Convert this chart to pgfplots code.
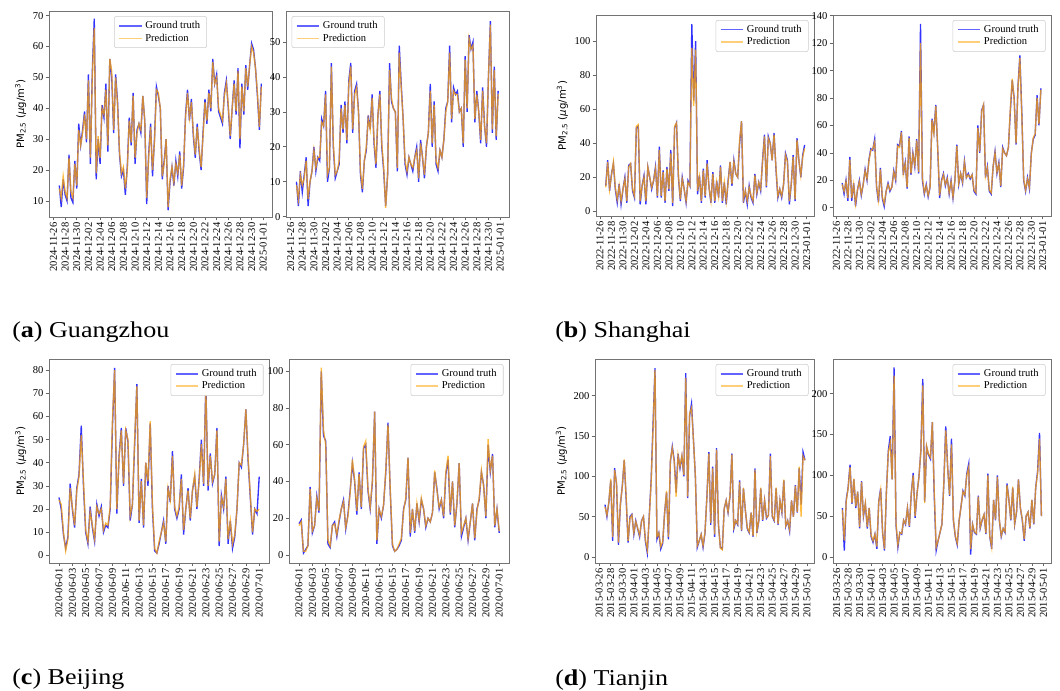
\documentclass[border=0pt]{standalone}
\usepackage{fontspec}
\usepackage{pgfplots}
\usepackage{pgfplotstable}
\pgfplotsset{compat=1.18}
\setmainfont{Liberation Serif}
\newfontfamily\dvs{DejaVu Sans}
\newfontfamily\capfont[FakeStretch=1.15]{Liberation Serif}
\newcommand{\tk}{\fontsize{7.9}{9}\selectfont}
\definecolor{gtc}{RGB}{0,0,255}
\definecolor{prc}{RGB}{255,165,0}
\definecolor{gtl}{RGB}{60,60,255}
\definecolor{prl}{RGB}{255,190,80}

% Guangzhou, left (index i -> day 1+i/3 from 2024-11-26)
\pgfplotstableread[row sep=\\]{gt pr\\
15 14\\ 8 11\\ 17 18\\ 12 13\\ 10 11\\ 25 24\\ 11 13\\ 9.5 11\\ 23 22\\
14 15\\ 35 33\\ 28 28\\ 33 32\\ 39 38\\ 29 30\\ 51 49\\ 22 24\\ 52 50\\
69 66\\ 17 19\\ 30 31\\ 22 24\\ 41 40\\ 37 38\\ 48 46\\ 26 28\\ 56 56\\
50 52\\ 32 33\\ 51 50\\ 42 41\\ 25 26\\ 18 19\\ 20 21\\ 12 14\\ 21 20\\
37 36\\ 28 29\\ 45 44\\ 22 24\\ 33 32\\ 35 35\\ 32 33\\ 44 44\\ 36 36\\
9 11\\ 25 24\\ 35 34\\ 18 20\\ 30 29\\ 47 46\\ 44 45\\ 40 40\\ 17 18\\
23 22\\ 30 30\\ 7 8\\ 16 17\\ 21 21\\ 15 16\\ 23 22\\ 18 19\\ 26 25\\
14 15\\ 21 22\\ 38 37\\ 46 45\\ 36 37\\ 43 42\\ 31 32\\ 24 25\\ 35 34\\
26 27\\ 20 21\\ 32 31\\ 43 42\\ 35 36\\ 46 45\\ 39 40\\ 56 55\\ 48 48\\
51 50\\ 39 40\\ 37 38\\ 35 36\\ 45 44\\ 49 48\\ 40 41\\ 30 31\\ 40 40\\
49 48\\ 38 39\\ 53 52\\ 27 30\\ 48 47\\ 38 39\\ 54 53\\ 46 47\\ 54 54\\
61 60\\ 59 58\\ 53 53\\ 44 45\\ 33 34\\ 48 47\\
}\tabAL
\pgfplotstableread[row sep=\\]{gt pr\\
10 9\\ 3 5\\ 13 12\\ 7 9\\ 12 11\\ 17 16\\ 3 5\\ 10 10\\ 13 13\\
20 19\\ 13 14\\ 17 17\\ 16 17\\ 28 27\\ 26 26\\ 36 35\\ 10 12\\ 14 14\\
44 43\\ 20 21\\ 11 12\\ 13 13\\ 15 16\\ 32 31\\ 24 25\\ 33 32\\ 21 22\\
39 38\\ 44 43\\ 24 25\\ 36 35\\ 38 37\\ 30 30\\ 12 13\\ 7 8\\ 16 16\\
19 20\\ 29 28\\ 25 25\\ 35 34\\ 21 22\\ 14 15\\ 29 29\\ 36 35\\ 20 21\\
13 14\\ 3 2.5\\ 12 12\\ 44 42\\ 33 34\\ 31 31\\ 30 30\\ 13 14\\ 49 47\\
38 37\\ 28 28\\ 15 16\\ 12 13\\ 17 17\\ 15 15\\ 13 14\\ 17 17\\ 20 19\\
10 11\\ 22 21\\ 17 17\\ 11 12\\ 20 20\\ 24 24\\ 38 36\\ 20 21\\ 33 32\\
15 16\\ 13 14\\ 19 19\\ 17 17\\ 22 22\\ 31 30\\ 33 33\\ 49 47\\ 27 28\\
37 36\\ 35 35\\ 36 35\\ 30 30\\ 31 31\\ 20 21\\ 46 45\\ 30 31\\ 52 51\\
48 48\\ 50 49\\ 27 28\\ 36 35\\ 30 30\\ 21 22\\ 37 36\\ 26 26\\ 20 21\\
40 40\\ 56 55\\ 24 25\\ 43 42\\ 22 23\\ 36 35\\
}\tabAR
% Shanghai (index i -> day 1+i/3 from 2022-11-26)
\pgfplotstableread[row sep=\\]{gt pr\\
15 14\\ 30 29\\ 12 13\\ 22 21\\ 28 29\\ 13 14\\ 5 7\\ 16 15\\ 4 6\\
13 13\\ 20 19\\ 5 6\\ 27 26\\ 28 28\\ 12 13\\ 8 9\\ 49 50\\ 50 51\\
4 6\\ 15 15\\ 21 20\\ 4 6\\ 26 26\\ 20 20\\ 13 14\\ 18 18\\ 26 25\\
8 9\\ 38 36\\ 8 9\\ 24 23\\ 5 6\\ 26 25\\ 12 13\\ 36 34\\ 3 5\\
49 50\\ 52 52\\ 20 21\\ 6 7\\ 20 19\\ 13 13\\ 5 6\\ 18 17\\ 15 15\\
110 96\\ 65 62\\ 100 95\\ 10 12\\ 21 20\\ 5 6\\ 25 24\\ 8 9\\ 30 28\\
14 14\\ 5 6\\ 23 22\\ 5 6\\ 18 17\\ 8 9\\ 27 26\\ 5 6\\ 17 17\\
4 6\\ 18 17\\ 29 29\\ 15 16\\ 30 29\\ 22 22\\ 20 20\\ 40 42\\ 53 53\\
5 7\\ 12 12\\ 4 6\\ 15 14\\ 8 9\\ 5 6\\ 22 21\\ 10 11\\ 17 17\\
12 13\\ 30 29\\ 45 44\\ 14 15\\ 44 43\\ 40 40\\ 30 30\\ 46 45\\ 25 26\\
8 9\\ 13 13\\ 8 9\\ 16 16\\ 34 33\\ 30 29\\ 4 6\\ 16 16\\ 33 32\\
6 7\\ 43 42\\ 30 30\\ 20 21\\ 33 32\\ 39 37\\
}\tabBL
\pgfplotstableread[row sep=\\]{gt pr\\
18 17\\ 10 12\\ 20 19\\ 5 7\\ 37 35\\ 5 7\\ 18 17\\ 1 3\\ 13 13\\
20 19\\ 9 10\\ 17 17\\ 28 27\\ 20 21\\ 35 34\\ 43 42\\ 42 43\\ 50 48\\
15 16\\ 4 6\\ 29 28\\ 7 8\\ 1 3\\ 12 12\\ 18 17\\ 12 13\\ 15 15\\
27 26\\ 20 21\\ 46 45\\ 45 44\\ 56 55\\ 24 25\\ 33 32\\ 14 15\\ 52 51\\
24 25\\ 40 39\\ 30 31\\ 50 49\\ 25 26\\ 134 120\\ 20 22\\ 10 11\\ 17 16\\
8 9\\ 15 15\\ 65 64\\ 55 54\\ 75 74\\ 43 44\\ 7 9\\ 20 19\\ 25 24\\
16 17\\ 22 21\\ 10 11\\ 20 19\\ 7 8\\ 20 20\\ 46 45\\ 17 18\\ 25 25\\
18 19\\ 34 33\\ 22 22\\ 25 24\\ 21 22\\ 24 24\\ 12 13\\ 10 11\\ 60 58\\
40 41\\ 71 70\\ 75 75\\ 22 23\\ 30 29\\ 12 13\\ 10 11\\ 30 30\\ 41 40\\
25 26\\ 33 32\\ 15 16\\ 44 43\\ 40 40\\ 38 38\\ 44 44\\ 70 72\\ 93 94\\
80 79\\ 46 47\\ 88 87\\ 111 109\\ 70 68\\ 20 21\\ 12 13\\ 22 21\\ 14 15\\
40 39\\ 50 51\\ 53 54\\ 82 80\\ 60 61\\ 87 86\\
}\tabBR
% Beijing (index i -> day i/3 from 2020-06-01)
\pgfplotstableread[row sep=\\]{gt pr\\
25 24\\ 20 22\\ 9 10\\ 3 2\\ 8 7\\ 31 29\\ 20 21\\ 12 13\\ 29 28\\
35 34\\ 56 52\\ 30 32\\ 10 11\\ 5 6\\ 21 19\\ 12 13\\ 6 7\\ 22 21\\
17 18\\ 21 20\\ 10 11\\ 13 14\\ 12 13\\ 20 21\\ 55 58\\ 81 80\\ 18 20\\
43 42\\ 55 54\\ 30 31\\ 55 54\\ 49 50\\ 15 17\\ 22 22\\ 48 50\\ 74 73\\
14 15\\ 33 32\\ 12 13\\ 40 40\\ 30 32\\ 57 58\\ 20 22\\ 2 3\\ 1 1\\
5 6\\ 10 10\\ 15 14\\ 5 6\\ 30 29\\ 23 24\\ 45 43\\ 20 21\\ 16 17\\
20 21\\ 35 33\\ 9 11\\ 20 20\\ 29 28\\ 15 16\\ 28 28\\ 34 35\\ 20 21\\
33 32\\ 50 48\\ 30 31\\ 74 72\\ 28 30\\ 44 43\\ 31 32\\ 35 35\\ 55 54\\
4 6\\ 26 25\\ 20 21\\ 34 33\\ 5 7\\ 15 15\\ 3 5\\ 8 9\\ 20 20\\
40 40\\ 38 39\\ 48 48\\ 63 63\\ 41 42\\ 25 26\\ 9 10\\ 20 20\\ 18 19\\
34 20\\
}\tabCL
\pgfplotstableread[row sep=\\]{gt pr\\
17 16\\ 19 18\\ 1 2\\ 3 2\\ 5 5\\ 37 36\\ 12 13\\ 16 16\\ 32 31\\
23 24\\ 100 102\\ 65 68\\ 62 60\\ 6 8\\ 4 5\\ 16 16\\ 18 17\\ 10 11\\
18 19\\ 25 25\\ 30 29\\ 14 15\\ 22 21\\ 35 34\\ 50 52\\ 40 41\\ 22 24\\
45 44\\ 25 26\\ 58 59\\ 60 62\\ 35 36\\ 25 26\\ 40 41\\ 78 78\\ 6 8\\
25 25\\ 20 21\\ 27 27\\ 45 46\\ 72 71\\ 35 36\\ 5 6\\ 2 2\\ 3 3\\
5 6\\ 8 9\\ 25 24\\ 30 31\\ 53 53\\ 10 12\\ 25 25\\ 12 13\\ 28 28\\
18 19\\ 30 31\\ 25 25\\ 15 16\\ 20 20\\ 18 18\\ 23 23\\ 45 46\\ 36 35\\
25 26\\ 30 30\\ 20 21\\ 44 45\\ 52 54\\ 22 23\\ 40 40\\ 15 16\\ 28 28\\
50 50\\ 10 12\\ 15 16\\ 20 20\\ 8 9\\ 18 18\\ 28 28\\ 8 9\\ 25 24\\
30 31\\ 45 46\\ 38 37\\ 20 21\\ 60 63\\ 45 46\\ 55 54\\ 15 16\\ 25 25\\
12 13\\
}\tabCR
% Tianjin (index i -> day 1+i/3 from 2015-03-26)
\pgfplotstableread[row sep=\\]{gt pr\\
65 62\\ 50 52\\ 68 68\\ 95 97\\ 20 25\\ 110 108\\ 90 92\\ 15 18\\ 65 66\\
88 87\\ 120 121\\ 72 75\\ 18 20\\ 50 48\\ 53 52\\ 28 30\\ 45 44\\ 35 36\\
25 27\\ 45 44\\ 50 50\\ 20 22\\ 5 9\\ 50 48\\ 95 93\\ 165 160\\ 234 232\\
22 25\\ 30 30\\ 10 13\\ 17 19\\ 55 54\\ 80 82\\ 22 25\\ 118 120\\ 137 135\\
120 118\\ 80 75\\ 128 126\\ 110 112\\ 125 126\\ 100 102\\ 228 222\\ 73 75\\ 175 178\\
190 185\\ 145 145\\ 100 100\\ 12 14\\ 20 20\\ 28 28\\ 12 14\\ 30 31\\ 75 74\\
130 128\\ 40 42\\ 112 110\\ 25 28\\ 135 133\\ 40 41\\ 12 11\\ 10 9\\ 60 60\\
70 70\\ 55 56\\ 75 76\\ 128 127\\ 35 37\\ 45 45\\ 40 41\\ 95 93\\ 32 33\\
85 86\\ 58 58\\ 35 36\\ 30 31\\ 55 55\\ 25 26\\ 110 108\\ 30 32\\ 45 45\\
85 86\\ 45 46\\ 70 70\\ 48 49\\ 52 51\\ 128 125\\ 50 51\\ 45 46\\ 85 86\\
40 41\\ 70 70\\ 55 56\\ 95 96\\ 38 39\\ 45 45\\ 32 34\\ 70 70\\ 50 50\\
89 88\\ 55 56\\ 110 112\\ 65 50\\ 130 125\\ 120 120\\
}\tabDL
\pgfplotstableread[row sep=\\]{gt pr\\
60 58\\ 8 20\\ 70 68\\ 85 84\\ 113 110\\ 65 66\\ 95 96\\ 60 62\\ 80 80\\
35 37\\ 93 92\\ 50 51\\ 65 66\\ 35 37\\ 60 60\\ 25 27\\ 18 20\\ 28 28\\
10 13\\ 68 67\\ 84 82\\ 30 31\\ 8 10\\ 80 80\\ 130 128\\ 148 140\\ 95 95\\
232 222\\ 40 42\\ 12 15\\ 30 30\\ 28 29\\ 45 45\\ 40 41\\ 60 60\\ 37 38\\
78 78\\ 103 100\\ 48 50\\ 78 78\\ 98 98\\ 130 130\\ 218 210\\ 68 66\\ 135 136\\
125 126\\ 120 122\\ 165 165\\ 75 80\\ 8 12\\ 20 20\\ 30 30\\ 40 40\\ 90 90\\
160 155\\ 110 110\\ 75 76\\ 145 138\\ 45 46\\ 25 26\\ 15 17\\ 45 45\\ 62 62\\
81 80\\ 75 76\\ 102 100\\ 114 110\\ 3 10\\ 40 40\\ 30 31\\ 28 29\\ 75 74\\
35 36\\ 45 46\\ 52 52\\ 28 29\\ 102 100\\ 25 26\\ 10 12\\ 70 70\\ 45 46\\
100 98\\ 45 46\\ 25 26\\ 35 35\\ 30 31\\ 90 88\\ 70 70\\ 45 46\\ 85 86\\
40 41\\ 55 56\\ 95 95\\ 60 60\\ 45 46\\ 20 22\\ 50 50\\ 55 55\\ 35 36\\
70 70\\ 40 41\\ 85 85\\ 105 102\\ 152 145\\ 50 50\\
}\tabDR

\pgfplotsset{
  base/.style={
    scale only axis,
    axis line style={black!55, line width=0.6pt},
    tick align=outside, tick pos=left,
    major tick length=2.5pt,
    tick style={black!60, line width=0.5pt},
    tick label style={font=\tk},
    /pgf/number format/assume math mode=true,
    xticklabel style={rotate=90, anchor=east, inner sep=1.5pt},
    yticklabel style={inner sep=1.5pt},
    legend cell align=left,
    legend style={font=\tk, draw=black!20, rounded corners=1.5pt, fill=white,
      inner xsep=3pt, inner ysep=1.5pt,
      row sep=-1.5pt, at={(0.975,0.975)}, anchor=north east},
    ylabel style={font=\fontsize{7.6}{9}\selectfont},
  },
  mon/.style={xtick={-3,3,...,105}},
  jun/.style={xtick={0,6,...,90}, xmin=-4.5, xmax=94.4},
  gt/.style={gtc, line width=1pt, opacity=0.8,
    legend image code/.code={\draw[gtl, line width=1.3pt] (0pt,0pt) -- (17pt,0pt);}},
  pr/.style={prc, line width=1pt, opacity=0.75,
    legend image code/.code={\draw[prl, line width=1.3pt] (0pt,0pt) -- (17pt,0pt);}},
}
\newcommand{\yl}{{\dvs PM\textsubscript{2.5} (\textit{μ}g/m\textsuperscript{3})}}

\begin{document}
\begin{tikzpicture}
\useasboundingbox (0,0) rectangle (795pt,-517.5pt);

% (a) Guangzhou
\begin{axis}[base, mon, at={(36.75pt,-162.75pt)}, anchor=south west,
  width=167.25pt, height=154.5pt, xmin=-5.3, xmax=109.5, ymin=4.8, ymax=71.5,
  ytick={10,20,...,70}, ylabel={\yl},
  xticklabels={2024-11-26,2024-11-28,2024-11-30,2024-12-02,2024-12-04,2024-12-06,2024-12-08,2024-12-10,2024-12-12,2024-12-14,2024-12-16,2024-12-18,2024-12-20,2024-12-22,2024-12-24,2024-12-26,2024-12-28,2024-12-30,2025-01-01},
  legend style={at={(0.5,0.975)}, anchor=north}]
\addplot[gt] table[x expr=\coordindex, y=gt]{\tabAL}; \addlegendentry{Ground truth}
\addplot[pr] table[x expr=\coordindex, y=pr]{\tabAL}; \addlegendentry{Prediction}
\end{axis}
\begin{axis}[base, mon, at={(214.5pt,-162.75pt)}, anchor=south west,
  width=167.25pt, height=154.5pt, xmin=-5.4, xmax=109.6, ymin=-0.1, ymax=58.9,
  ytick={0,10,...,50},
  xticklabels={2024-11-26,2024-11-28,2024-11-30,2024-12-02,2024-12-04,2024-12-06,2024-12-08,2024-12-10,2024-12-12,2024-12-14,2024-12-16,2024-12-18,2024-12-20,2024-12-22,2024-12-24,2024-12-26,2024-12-28,2024-12-30,2025-01-01},
  legend style={at={(0.025,0.975)}, anchor=north west}]
\addplot[gt] table[x expr=\coordindex, y=gt]{\tabAR}; \addlegendentry{Ground truth}
\addplot[pr] table[x expr=\coordindex, y=pr]{\tabAR}; \addlegendentry{Prediction}
\end{axis}

% (b) Shanghai
\begin{axis}[base, mon, at={(447pt,-162pt)}, anchor=south west,
  width=163.5pt, height=150.75pt, xmin=-5.1, xmax=108.9, ymin=-2.8, ymax=115.4,
  ytick={0,20,...,100}, ylabel={\yl},
  xticklabels={2022-11-26,2022-11-28,2022-11-30,2022-12-02,2022-12-04,2022-12-06,2022-12-08,2022-12-10,2022-12-12,2022-12-14,2022-12-16,2022-12-18,2022-12-20,2022-12-22,2022-12-24,2022-12-26,2022-12-28,2022-12-30,2023-01-01}]
\addplot[gt] table[x expr=\coordindex, y=gt]{\tabBL}; \addlegendentry{Ground truth}
\addplot[pr] table[x expr=\coordindex, y=pr]{\tabBL}; \addlegendentry{Prediction}
\end{axis}
\begin{axis}[base, mon, at={(624.75pt,-162pt)}, anchor=south west,
  width=163.5pt, height=150.75pt, xmin=-4.8, xmax=109.3, ymin=-6, ymax=140.5,
  ytick={0,20,...,140},
  xticklabels={2022-11-26,2022-11-28,2022-11-30,2022-12-02,2022-12-04,2022-12-06,2022-12-08,2022-12-10,2022-12-12,2022-12-14,2022-12-16,2022-12-18,2022-12-20,2022-12-22,2022-12-24,2022-12-26,2022-12-28,2022-12-30,2023-01-01}]
\addplot[gt] table[x expr=\coordindex, y=gt]{\tabBR}; \addlegendentry{Ground truth}
\addplot[pr] table[x expr=\coordindex, y=pr]{\tabBR}; \addlegendentry{Prediction}
\end{axis}

% (c) Beijing
\begin{axis}[base, jun, at={(36.75pt,-422.25pt)}, anchor=south west,
  width=165pt, height=153pt, ymin=-3.3, ymax=84.8,
  ytick={0,10,...,80}, ylabel={\yl},
  xticklabels={2020-06-01,2020-06-03,2020-06-05,2020-06-07,2020-06-09,2020-06-11,2020-06-13,2020-06-15,2020-06-17,2020-06-19,2020-06-21,2020-06-23,2020-06-25,2020-06-27,2020-06-29,2020-07-01}]
\addplot[gt] table[x expr=\coordindex, y=gt]{\tabCL}; \addlegendentry{Ground truth}
\addplot[pr] table[x expr=\coordindex, y=pr]{\tabCL}; \addlegendentry{Prediction}
\end{axis}
\begin{axis}[base, jun, at={(216.75pt,-422.25pt)}, anchor=south west,
  width=165pt, height=153pt, ymin=-4.4, ymax=106.7,
  ytick={0,20,...,100},
  xticklabels={2020-06-01,2020-06-03,2020-06-05,2020-06-07,2020-06-09,2020-06-11,2020-06-13,2020-06-15,2020-06-17,2020-06-19,2020-06-21,2020-06-23,2020-06-25,2020-06-27,2020-06-29,2020-07-01}]
\addplot[gt] table[x expr=\coordindex, y=gt]{\tabCR}; \addlegendentry{Ground truth}
\addplot[pr] table[x expr=\coordindex, y=pr]{\tabCR}; \addlegendentry{Prediction}
\end{axis}

% (d) Tianjin
\begin{axis}[base, mon, at={(446.25pt,-422.25pt)}, anchor=south west,
  width=164.25pt, height=153pt, xmin=-5.2, xmax=108.7, ymin=-7.4, ymax=245.4,
  ytick={0,50,...,200}, ylabel={\yl},
  xticklabels={2015-03-26,2015-03-28,2015-03-30,2015-04-01,2015-04-03,2015-04-05,2015-04-07,2015-04-09,2015-04-11,2015-04-13,2015-04-15,2015-04-17,2015-04-19,2015-04-21,2015-04-23,2015-04-25,2015-04-27,2015-04-29,2015-05-01}]
\addplot[gt] table[x expr=\coordindex, y=gt]{\tabDL}; \addlegendentry{Ground truth}
\addplot[pr] table[x expr=\coordindex, y=pr]{\tabDL}; \addlegendentry{Prediction}
\end{axis}
\begin{axis}[base, mon, at={(624.75pt,-422.25pt)}, anchor=south west,
  width=163.5pt, height=153pt, xmin=-4.9, xmax=109, ymin=-7.3, ymax=242.4,
  ytick={0,50,...,200},
  xticklabels={2015-03-26,2015-03-28,2015-03-30,2015-04-01,2015-04-03,2015-04-05,2015-04-07,2015-04-09,2015-04-11,2015-04-13,2015-04-15,2015-04-17,2015-04-19,2015-04-21,2015-04-23,2015-04-25,2015-04-27,2015-04-29,2015-05-01}]
\addplot[gt] table[x expr=\coordindex, y=gt]{\tabDR}; \addlegendentry{Ground truth}
\addplot[pr] table[x expr=\coordindex, y=pr]{\tabDR}; \addlegendentry{Prediction}
\end{axis}

% captions
\node[anchor=base west, inner sep=0pt] at (9pt,-252.75pt) {\capfont\fontsize{17}{20}\selectfont(\textbf{a}) Guangzhou};
\node[anchor=base west, inner sep=0pt] at (416.25pt,-252.75pt) {\capfont\fontsize{17}{20}\selectfont(\textbf{b}) Shanghai};
\node[anchor=base west, inner sep=0pt] at (9pt,-513.5pt) {\capfont\fontsize{17}{20}\selectfont(\textbf{c}) Beijing};
\node[anchor=base west, inner sep=0pt] at (416.25pt,-513.75pt) {\capfont\fontsize{17}{20}\selectfont(\textbf{d}) Tianjin};
\end{tikzpicture}
\end{document}
